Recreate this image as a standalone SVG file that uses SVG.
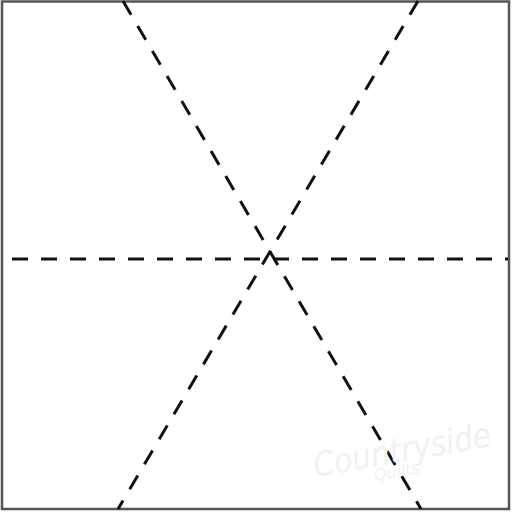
<svg xmlns="http://www.w3.org/2000/svg" width="512" height="512" viewBox="0 0 512 512">
<style>
.d{stroke:#111;stroke-width:3;stroke-dasharray:16 13;fill:none}
.wm{font-family:"DejaVu Sans",sans-serif;font-style:italic;fill:#f1f1f1}
</style>
<rect width="512" height="512" fill="#fff"/>
<rect x="2" y="1.5" width="507" height="507.5" fill="none" stroke="#555" stroke-width="2.5"/>
<g id="connectors">
<line class="d" x1="12" y1="259" x2="508" y2="259"/>
<line class="d" x1="123" y1="1" x2="421" y2="509"/>
<line class="d" x1="418" y1="1" x2="118" y2="509"/>
</g>
<g id="watermark" transform="rotate(-10 400 450)">
<text class="wm" x="312" y="462" font-size="34" textLength="180" lengthAdjust="spacingAndGlyphs">Countryside</text>
<text class="wm" x="370" y="476" font-size="16">Quilts</text>
</g>
</svg>
